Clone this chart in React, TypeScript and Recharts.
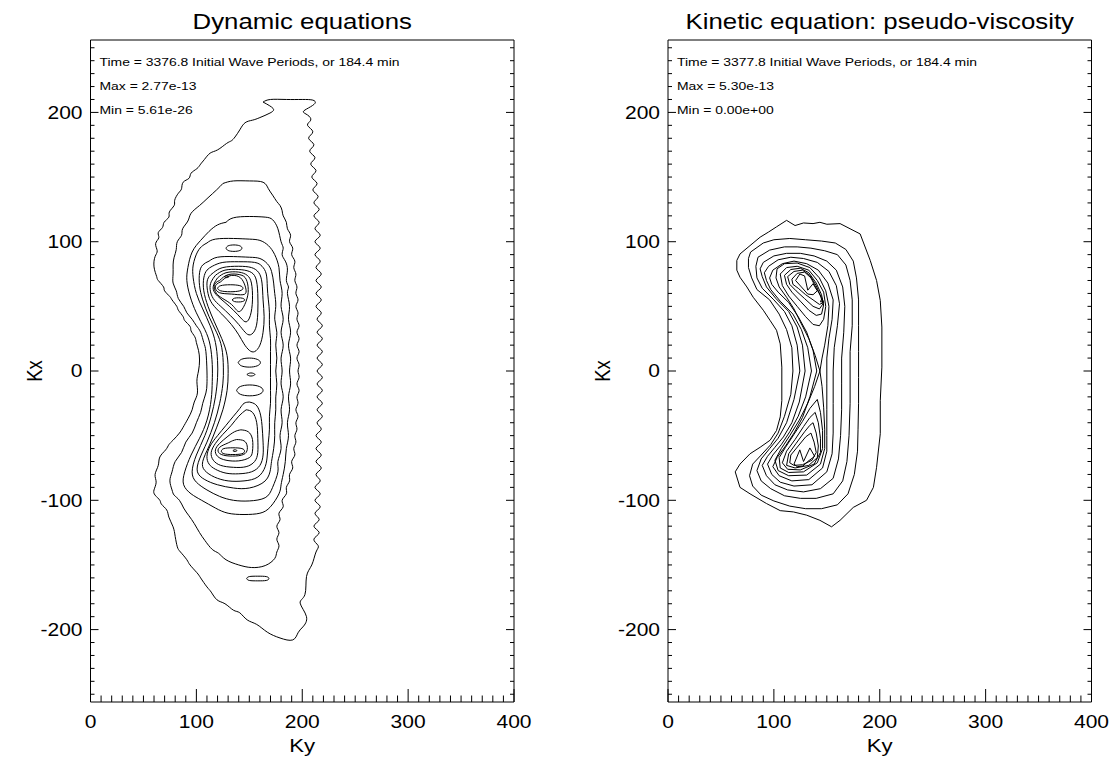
import React from "react";
import { LineChart, Line, XAxis, YAxis } from "recharts";

type Pt = [number, number]; // [Ky, Kx]

// ---------- Dynamic equations: contour paths ----------
const dynOuter: Pt[] = [
  [163,208],[170,210],[185,210],[200,210],[210,209.5],[212,207],[206,203.5],[201,200.5],[205,198],[208,194],
  [205,190],[210,185],[206,180],[211,175],[207,170],[212,165],[208,160],[213,155],[209,150],[214,145],[210,140],[215,135],
  [211,130],[216,125],[211,120],[216,115],[212,110],[217,105],[212,100],[217,95],[212,90],[217,85],[213,80],[218,75],
  [213,70],[218,65],[213,60],[218,55],[213,50],[218,45],[214,40],[219,35],[214,30],[219,25],[214,20],[219,15],[214,10],
  [219,5],[214,0],[219,-5],[214,-10],[219,-15],[214,-20],[219,-25],[214,-30],[219,-35],[214,-40],[218,-45],[213,-50],
  [218,-55],[213,-60],[218,-65],[213,-70],[218,-75],[213,-80],[217,-85],[212,-90],[217,-95],[212,-100],[217,-105],
  [212,-110],[216,-115],[211,-120],[216,-125],[211,-130],[215,-135],[213,-140],
  [209,-150],[204,-159],[202.5,-173],[198,-179.5],[204,-190],[200.5,-198],[196,-202.5],[191,-208],[179,-206.5],
  [167,-202],[157,-196],[148,-192.5],[141,-187],[135,-185],[127,-180],[119.5,-177],[114,-171],[110,-167],[104,-160],
  [100.5,-156],[94,-150],[91,-146],[85,-140],[82,-136],[80,-128],[78,-120.5],[74,-113],[72,-107.5],[67,-103],
  [65.5,-100],[61,-96],[60,-92],[62,-86],[61,-80],[64,-73],[65.5,-66.5],[71,-61],[74,-57],[78,-53.5],[84,-48],
  [87.5,-43.5],[92,-37],[96,-30],[98,-24],[101,-17],[100.5,-8],[102,0],[103,8.5],[102,16],[100,22],[98.5,26.5],[95,31],
  [94,34.5],[89,39],[87.5,42],[83,47],[81.5,50],[77,55],[75,57.5],[70,62],[69,65],[64,70],[62.5,73],[60,80.5],[61,88.5],
  [63,93],[61.5,98.5],[64.5,103],[64,107],[68,111],[69.5,115],[74,119],[74.5,123],[79,128],[79.5,132],[83,137.5],
  [86,141],[87.5,146],[93,149],[95,153],[100.5,156.5],[104,160],[107.5,163.5],[113,168.5],[120,171],[128.5,176],
  [133,178],[136.5,181],[141,186.5],[146,192],[153,194],[160,196],[169.5,199.5],[172.5,203],[163,208],
];
const dynIsle: Pt[] = [[147.5,-160.5],[150,-159],[158,-158.7],[166,-159],[168.5,-160.5],[166,-162],[158,-162.3],[150,-162],[147.5,-160.5]];
const dynLevel2: Pt[] = [
  [125,145],[135,147],[150,147],[163,146],[168,141],[172,136],[176,131],[179,128],[181,124],[182,120],[185,115],[186,110],
  [189,105],[188,100],[191,95],[190,90],[193,85],[192,80],[194,75],[193,70],[195,65],[194,60],[196,55],[194,50],[196,45],
  [195,40],[197,35],[195,30],[197,25],[195,20],[197,15],[195,10],[197,5],[196,0],[197,-5],[195,-10],[197,-15],[195,-20],
  [196,-25],[194,-30],[196,-35],[194,-40],[195,-45],[193,-50],[194,-55],[192,-60],[193,-65],[190,-70],[191,-75],[188,-80],
  [188,-85],[185,-90],[185,-95],[181,-100],[182,-105],[178,-110],[179,-115],[176,-120],[178,-125],[176,-130],[178,-135],
  [176,-140],[174,-145],[165,-150.5],[152,-152],[140,-150],[128,-146],[121,-141],[115,-138],[108,-131],[103,-125],
  [98,-118],[93,-112],[88,-106],[84,-100],[79,-96],[77,-92],[75,-85],[77,-78],[80,-70],[86,-63],[90,-55],[96,-48],
  [100,-40],[104,-32],[106,-25],[109,-17],[110,-10],[110,0],[109,15],[107,22],[104,30],[100,35],[96,40],[91,45],[88,50],
  [83,56],[81,62],[78,68],[78,75],[78,82],[79,88],[81,94],[82,100],[86,105],[87,110],[92,116],[95,122],[103,128],
  [111,134],[119,140],[125,145],
];
const dynLevel3: Pt[] = [
  [128,115],[135,118.5],[150,119.5],[165,119],[172,117],[177,110],[180,100],[182,95],[181,90],[184,85],[186,78],[185,70],
  [187,65],[186,60],[188,50],[187,40],[189,30],[187,20],[189,10],[188,0],[189,-10],[187,-20],[188,-30],[186,-40],[187,-50],
  [185,-60],[184,-70],[182,-80],[180,-88],[178,-95],[170,-105],[160,-110],[145,-111],[130,-110],[118,-106],[105,-100],
  [95,-95],[88,-88],[89,-78],[95,-65],[103,-52],[110,-38],[114,-22],[115,-8],[115,5],[113,20],[108,32],[100,45],[94,58],
  [91,70],[92,80],[96,92],[104,101],[112,108],[120,113],[128,115],
];
const dynLevel4: Pt[] = [
  [110,99],[118,102],[135,102.5],[150,102],[160,101],[168,97],[174,90],[178,80],[179,70],[181,60],[180,50],[182,40],
  [180,30],[182,20],[180,10],[181,0],[180,-10],[182,-20],[180,-30],[181,-40],[179,-50],[180,-60],[177,-70],[177,-78],
  [172,-90],[165,-98],[150,-100.5],[135,-100],[122,-97],[110,-92],[100,-86],[96,-78],[100,-65],[108,-50],[114,-35],
  [118,-20],[120,-5],[120,8],[118,22],[113,35],[106,48],[100,60],[97,72],[97,82],[101,92],[106,97],[110,99],
];
const dynLevel5: Pt[] = [
  [112,85],[120,88],[135,88.5],[150,88],[160,87],[167,83],[171,77],[173,68],[174,60],[175,50],[174,40],[176,30],[175,20],
  [176,10],[175,0],[176,-10],[175,-20],[175,-30],[174,-40],[174,-50],[173,-60],[171,-70],[170,-76],[165,-85],[150,-90.5],
  [135,-90.5],[120,-88],[108,-84],[101,-78],[103,-68],[110,-55],[117,-40],[122,-25],[125,-10],[125.5,3],[124,18],[119,30],
  [112,42],[106,55],[103,66],[103,76],[106,82],[112,85],
];
const dynLevel6: Pt[] = [
  [115,81],[125,84],[140,84.5],[155,84],[162,81],[166,75],[167,65],[168,55],[169,45],[169,35],[170,25],[170,15],[170,5],
  [170,-5],[170,-15],[170,-25],[169,-35],[169,-45],[168,-55],[167,-65],[165,-74],[158,-82],[145,-85],[130,-85],[117,-82],
  [108,-77],[106,-70],[112,-58],[119,-44],[125,-30],[129,-15],[130,-2],[129,12],[124,25],[117,38],[111,50],[107,62],
  [107,72],[110,78],[115,81],
];
const dynUpper7: Pt[] = [[116,76],[125,80],[140,81],[152,80],[159,76],[162,68],[163,55],[164,42],[163,30],[160,20],[155,15],[150,16],[145,21],[140,28],[133,36],[124,44],[115,52],[111,60],[110,68],[112,73],[116,76]];
const dynUpper8: Pt[] = [[118,74],[127,78],[140,78.5],[150,77],[156,72],[158,60],[158,45],[156,33],[151,28],[146,30],[140,36],[132,43],[123,50],[116,56],[113,63],[114,69],[118,74]];
const dynUpper9: Pt[] = [[120,72],[128,76],[140,76.5],[148,74],[152,68],[153,55],[151,43],[147,38],[142,41],[135,47],[127,53],[120,58],[116,63],[117,68],[120,72]];
const dynUpper10: Pt[] = [[122,70],[130,74.5],[141,74.5],[147,71],[149,63],[147,54],[141,46],[135,50],[127,55],[120,59],[117,64],[118,68],[122,70]];
const dynUpper11: Pt[] = [[123,69],[131,73.5],[140,73],[145,68],[147,62],[144,59],[133,59.5],[122,60.5],[118,64],[119,67],[123,69]];
const dynUpperDot: Pt[] = [[126.5,72.9],[128.6,73.6],[130.7,72.9],[128.6,72.2],[126.5,72.9]];
const dynUpperEll1: Pt[] = [[120,64],[123,66],[132,66.7],[141,66],[144,64],[141,62],[132,61.3],[123,62],[120,64]];
const dynUpperEll2: Pt[] = [[133.7,55],[136,56.3],[139.7,56.6],[143.4,56.3],[145.7,55],[143.4,53.7],[139.7,53.4],[136,53.7],[133.7,55]];
const dynUpperEll3: Pt[] = [[128,95],[130,96.8],[135.5,97.5],[141,96.8],[143,95],[141,93.2],[135.5,92.5],[130,93.2],[128,95]];
const dynMid1: Pt[] = [[139.5,6.5],[142.5,9],[150,10],[157.5,9],[160.5,6.5],[157.5,4],[150,3],[142.5,4],[139.5,6.5]];
const dynMid2: Pt[] = [[147.7,-2.7],[151.5,-1.5],[155.3,-2.7],[151.5,-3.9],[147.7,-2.7]];
const dynMid3: Pt[] = [[138,-15],[141.5,-12],[150.5,-10.8],[159.5,-12],[163,-15],[159.5,-18],[150.5,-19.2],[141.5,-18],[138,-15]];
const dynLower7: Pt[] = [[150,-24],[156,-26],[160,-32],[162,-42],[163,-55],[163,-65],[160,-73],[152,-78],[140,-79.5],[128,-79],[118,-76],[112,-72],[110,-66],[113,-58],[120,-50],[128,-42],[135,-35],[141,-29],[145,-25],[150,-24]];
const dynLower8: Pt[] = [[147,-30],[153,-32],[157,-40],[158,-52],[158,-63],[155,-70],[147,-74],[135,-74.5],[123,-73],[116,-69],[114,-63],[118,-56],[125,-49],[133,-42],[140,-35],[147,-30]];
const dynLower9: Pt[] = [[142,-45.5],[149,-47],[153,-53],[153,-62],[150,-67],[140,-69.5],[128,-69],[120,-66],[118,-61],[122,-56],[129,-51],[136,-47],[142,-45.5]];
const dynLower10: Pt[] = [[138,-53],[145,-54],[148,-58],[147,-63],[140,-65.5],[128,-65.5],[121,-63],[122,-59],[129,-56],[134,-54],[138,-53]];
const dynLowerEll: Pt[] = [[123.5,-62],[126,-60],[134.5,-59.4],[143,-60],[145.5,-62],[143,-64],[134.5,-64.6],[126,-64],[123.5,-62]];
const dynLowerDot: Pt[] = [[134.5,-61.6],[136.4,-60.9],[138.3,-61.6],[136.4,-62.3],[134.5,-61.6]];

// ---------- Kinetic equation: contour paths ----------
const kinOuter: Pt[] = [
  [112,116.5],[120,112.5],[128,114.5],[137,114],[143.5,115],[150,113.5],[162.5,114],[181.5,106],[191,85.5],[197,70],
  [200.5,54.5],[202,34],[202,3],[200.5,-23],[200.5,-48.5],[197,-74.5],[194,-90],[187.5,-100],[175,-105.5],[162.5,-115.5],
  [154.5,-120.5],[143.5,-115.5],[131,-111.5],[118.5,-109],[106,-108],[93,-102.5],[77.5,-95],[68,-90],[65,-82],[63.5,-78],
  [68,-72],[77.5,-64],[87,-59],[96.5,-53.5],[102.5,-46],[106,-35.5],[107.5,-23],[107.5,3],[106,21],[102.5,31.5],[96.5,39],
  [90,47],[80.5,57],[74.5,65],[68,72.5],[65,78],[65,85.5],[68,90.5],[77.5,97],[87,103.5],[95,107.5],[102.5,111.5],[112,116.5],
];
const kinLevel2: Pt[] = [
  [78,92],[90,99],[100,101.5],[115,102.5],[130,101.5],[145,100.5],[158,99],[168,94],[175,85],[178,72],[180,55],[180,35],
  [180,15],[180,-5],[180,-25],[179.5,-45],[179,-62],[176,-80],[170,-95],[160,-103.5],[145,-106.5],[130,-106.5],[115,-104.5],
  [100,-100.5],[88,-96],[80,-89],[77,-81],[80,-72],[88,-65],[97,-57],[104,-48],[110,-35],[116,-18],[118,0],[117,18],
  [112,32],[105,44],[96,55],[84,63],[79,72],[76,80],[76,87],[78,92],
];
const kinLevel3: Pt[] = [
  [85,88],[96,93.5],[110,96],[122,96],[135,95],[148,93],[160,90],[168,82],[172,70],[174,55],[174,35],[172,15],[172,0],
  [172,-25],[171,-50],[169,-70],[165,-85],[156,-95],[140,-98.5],[125,-98.5],[110,-96.5],[97,-91],[88,-85],[84,-77],
  [88,-68],[96,-60],[104,-52],[112,-40],[119,-22],[124.5,0],[122,20],[117,35],[110,46],[100,55],[89,64],[84,72],[83,81],[85,88],
];
const kinLevel4: Pt[] = [
  [90,84],[100,89],[112,91],[125,91],[138,89],[150,85],[159,78],[165,65],[167,50],[166,30],[164,10],[164,-10],[164,-30],
  [163,-50],[161,-68],[156,-83],[144,-91],[128,-93.5],[113,-92],[101,-88],[93,-81],[89,-73],[94,-66],[101,-59],[109,-51],
  [117,-40],[124,-24],[129.5,0],[127,20],[122,34],[114,46],[102,56],[93,65],[89,73],[87,79],[90,84],
];
const kinLevel5: Pt[] = [
  [95,81],[104,86],[116,88],[128,87],[141,84],[152,77],[159,66],[162,52],[160,35],[157,18],[156,0],[156,-25],[156,-48],
  [155,-64],[150,-78],[136,-88],[119,-89],[106,-86],[98,-80],[94,-72],[99,-65],[107,-57],[115,-47],[123,-35],[130,-20],
  [135.5,0],[132,18],[126,32],[118,44],[106,54],[97,63],[93,70],[91,76],[95,81],
];
const kinLevel6: Pt[] = [
  [99,78],[108,83],[119,85],[131,83],[142,78],[151,68],[156,55],[155,40],[152,25],[150,10],[150,-10],[150,-30],[150,-50],
  [150,-62],[146,-75],[133,-84],[117,-85],[105,-81],[99,-74],[103,-67],[111,-58],[119,-48],[127,-36],[134,-20],[140.5,0],
  [137,16],[131,30],[123,42],[114,53],[104,61],[98,67],[96,72],[99,78],
];
const kinLevel7: Pt[] = [
  [143.5,0],[139,12],[133,25],[125,38],[119,48],[112,57],[105,65],[102,72],[103,79],[110,83],[122,83.5],[134,80],[143,72],
  [149,62],[152,50],[151,35],[148,20],[145.5,10],[143.5,0],[145.5,-12],[147,-28],[148,-45],[148,-60],[144,-72],[131,-80.5],
  [114,-81],[104,-77],[101,-69],[107,-60],[115,-50],[124,-38],[132,-25],[138.5,-12],[143.5,0],
];
const kinUpper8: Pt[] = [[106,75],[112,80],[122,81],[133,78],[141,70],[147,61],[149,50],[147,40],[143,35],[137,36],[130,42],[122,50],[114,58],[108,66],[106,75]];
const kinUpper9: Pt[] = [[110,74],[116,78.5],[125,79.5],[133,76],[140,68],[145,59],[147,51],[145,44],[140,43],[133,47],[125,54],[117,61],[112,67],[110,74]];
const kinUpper10: Pt[] = [[113,73],[119,77],[127,78],[134,74],[140,66],[144,58],[146.5,52],[143,48],[137,50],[129,56],[121,62],[115,67],[113,73]];
const kinUpper11: Pt[] = [[117,71],[122,75.5],[129,76.5],[135,72],[140,64],[145,57],[147,53],[143,51.5],[137,55],[130,59],[123,64],[118,67],[117,71]];
const kinUpper12: Pt[] = [[120.5,70],[124.5,75],[129,73.5],[132,62.5],[137,67.5],[141,62],[137,59],[132,59.5],[126,65],[120.5,70]];
const kinUpperPeak: Pt[] = [[144,53.5],[146.5,53.5],[145.3,56],[144,53.5]];
const kinLower8: Pt[] = [[141,-22],[144,-32],[146,-46],[146,-60],[141,-71],[128,-78],[114,-78.5],[106,-75],[105,-67],[111,-59],[119,-49],[127,-39],[134,-29],[141,-22]];
const kinLower9: Pt[] = [[139,-32],[142,-40],[144,-52],[144,-63],[138,-72],[125,-76.5],[113,-76],[108,-71],[112,-62],[120,-53],[128,-43],[134,-36],[139,-32]];
const kinLower10: Pt[] = [[137,-40],[140,-48],[142,-58],[141,-67],[133,-73],[120,-75],[112,-73],[114,-64],[121,-56],[129,-47],[134,-42],[137,-40]];
const kinLower11: Pt[] = [[135,-48],[138,-55],[140,-63],[136,-69],[127,-72.5],[119,-73],[115,-71],[116,-65],[123,-58],[130,-51],[135,-48]];
const kinLower12: Pt[] = [[119,-72],[124.5,-61],[128,-70],[134,-59.5],[138.5,-66],[132,-70],[127.5,-73.5],[122,-74],[119,-72]];

const dynContours = [
  dynOuter, dynIsle, dynLevel2, dynLevel3, dynLevel4, dynLevel5, dynLevel6,
  dynUpper7, dynUpper8, dynUpper9, dynUpper10, dynUpper11, dynUpperDot, dynUpperEll1, dynUpperEll2, dynUpperEll3,
  dynMid1, dynMid2, dynMid3, dynLower7, dynLower8, dynLower9, dynLower10, dynLowerEll, dynLowerDot,
];
const kinContours = [
  kinOuter, kinLevel2, kinLevel3, kinLevel4, kinLevel5, kinLevel6, kinLevel7,
  kinUpper8, kinUpper9, kinUpper10, kinUpper11, kinUpper12, kinUpperPeak,
  kinLower8, kinLower9, kinLower10, kinLower11, kinLower12,
];

const dynInfo = ["Time = 3376.8 Initial Wave Periods, or 184.4 min", "Max = 2.77e-13", "Min = 5.61e-26"];
const kinInfo = ["Time = 3377.8 Initial Wave Periods, or 184.4 min", "Max = 5.30e-13", "Min = 0.00e+00"];

const xMajor = [0, 100, 200, 300, 400];
const yMajor = [-200, -100, 0, 100, 200];
const xTicks = Array.from({ length: 41 }, (_, i) => i * 10);
const yTicks = Array.from({ length: 51 }, (_, i) => -250 + i * 10);

const FONT = "'Liberation Sans', Arial, Helvetica, sans-serif";
const SX = 1.2; // text in the reference is horizontally stretched
const INK = "#000";

const BottomTick = ({ x, y, payload }: any) => {
  const major = xMajor.includes(payload.value);
  return (
    <g>
      <line x1={x} y1={y} x2={x} y2={y - (major ? 13 : 6.5)} stroke={INK} />
      {major && (
        <text transform={`translate(${x},${y + 26}) scale(${SX},1)`} textAnchor="middle" fontSize={17.5} fontFamily={FONT} fill={INK}>
          {payload.value}
        </text>
      )}
    </g>
  );
};
const TopTick = ({ x, y, payload }: any) => {
  const major = xMajor.includes(payload.value);
  return <line x1={x} y1={y} x2={x} y2={y + (major ? 13 : 6.5)} stroke={INK} />;
};
const LeftTick = ({ x, y, payload }: any) => {
  const major = yMajor.includes(payload.value);
  return (
    <g>
      <line x1={x} y1={y} x2={x + (major ? 8 : 4)} y2={y} stroke={INK} />
      {major && (
        <text transform={`translate(${x - 8},${y + 6.3}) scale(${SX},1)`} textAnchor="end" fontSize={17.5} fontFamily={FONT} fill={INK}>
          {payload.value}
        </text>
      )}
    </g>
  );
};
const RightTick = ({ x, y, payload }: any) => {
  const major = yMajor.includes(payload.value);
  return <line x1={x} y1={y} x2={x - (major ? 8 : 4)} y2={y} stroke={INK} />;
};

type Margin = { top: number; right: number; bottom: number; left: number };

function ContourPanel({ contours, left, width, margin, smooth }: { contours: Pt[][]; left: number; width: number; margin: Margin; smooth: boolean }) {
  return (
    <div style={{ position: "absolute", left, top: 0 }}>
      <LineChart width={width} height={761} margin={margin}>
        <XAxis xAxisId="b" dataKey="ky" type="number" domain={[0, 400]} allowDataOverflow ticks={xTicks} interval={0}
          tickSize={0} tickMargin={0} tick={BottomTick} tickLine={false} height={40} axisLine={{ stroke: INK }} />
        <XAxis xAxisId="t" orientation="top" type="number" domain={[0, 400]} allowDataOverflow ticks={xTicks} interval={0}
          tickSize={0} tickMargin={0} tick={TopTick} tickLine={false} height={10} axisLine={{ stroke: INK }} />
        <YAxis yAxisId="l" dataKey="kx" type="number" domain={[-256, 256]} allowDataOverflow ticks={yTicks} interval={0}
          tickSize={0} tickMargin={0} tick={LeftTick} tickLine={false} width={60} axisLine={{ stroke: INK }} />
        <YAxis yAxisId="r" orientation="right" type="number" domain={[-256, 256]} allowDataOverflow ticks={yTicks} interval={0}
          tickSize={0} tickMargin={0} tick={RightTick} tickLine={false} width={10} axisLine={{ stroke: INK }} />
        {contours.map((c, i) => (
          <Line
            key={i}
            xAxisId="b"
            yAxisId="l"
            data={c.map(([ky, kx]) => ({ ky, kx }))}
            dataKey="kx"
            type={smooth ? "natural" : "linear"}
            stroke={INK}
            strokeWidth={1}
            dot={false}
            activeDot={false}
            isAnimationActive={false}
          />
        ))}
      </LineChart>
    </div>
  );
}

function Txt({ x, y, size, anchor = "start", rotate = false, children }: any) {
  const t = rotate ? `translate(${x},${y}) scale(${SX},1) rotate(-90)` : `translate(${x},${y}) scale(${SX},1)`;
  return (
    <text transform={t} fontSize={size} fontFamily={FONT} textAnchor={anchor} fill={INK}>
      {children}
    </text>
  );
}

export default function App() {
  const lBox = { x0: 90.5, x1: 514 };
  const rBox = { x0: 668, x1: 1091.5 };
  return (
    <div style={{ position: "absolute", left: 0, top: 0, width: 1113, height: 761, background: "#fff" }}>
      <ContourPanel contours={dynContours} left={0} width={556} smooth
        margin={{ top: 30, right: 32, bottom: 19, left: 30.5 }} />
      <ContourPanel contours={kinContours} left={556} width={557} smooth={false}
        margin={{ top: 30, right: 11.5, bottom: 19, left: 52 }} />
      <svg width={1113} height={761} style={{ position: "absolute", left: 0, top: 0, pointerEvents: "none" }}>
        <Txt x={(lBox.x0 + lBox.x1) / 2} y={29} size={21.5} anchor="middle">Dynamic equations</Txt>
        <Txt x={(rBox.x0 + rBox.x1) / 2} y={29} size={21.5} anchor="middle">Kinetic equation: pseudo-viscosity</Txt>
        {dynInfo.map((s, i) => (
          <Txt key={s} x={lBox.x0 + 9} y={65.5 + i * 24.2} size={11.6}>{s}</Txt>
        ))}
        {kinInfo.map((s, i) => (
          <Txt key={s} x={rBox.x0 + 9} y={65.5 + i * 24.2} size={11.6}>{s}</Txt>
        ))}
        <Txt x={(lBox.x0 + lBox.x1) / 2} y={752} size={18.5} anchor="middle">Ky</Txt>
        <Txt x={(rBox.x0 + rBox.x1) / 2} y={752} size={18.5} anchor="middle">Ky</Txt>
        <Txt x={42} y={371} size={18.5} anchor="middle" rotate>Kx</Txt>
        <Txt x={610} y={371} size={18.5} anchor="middle" rotate>Kx</Txt>
      </svg>
    </div>
  );
}
